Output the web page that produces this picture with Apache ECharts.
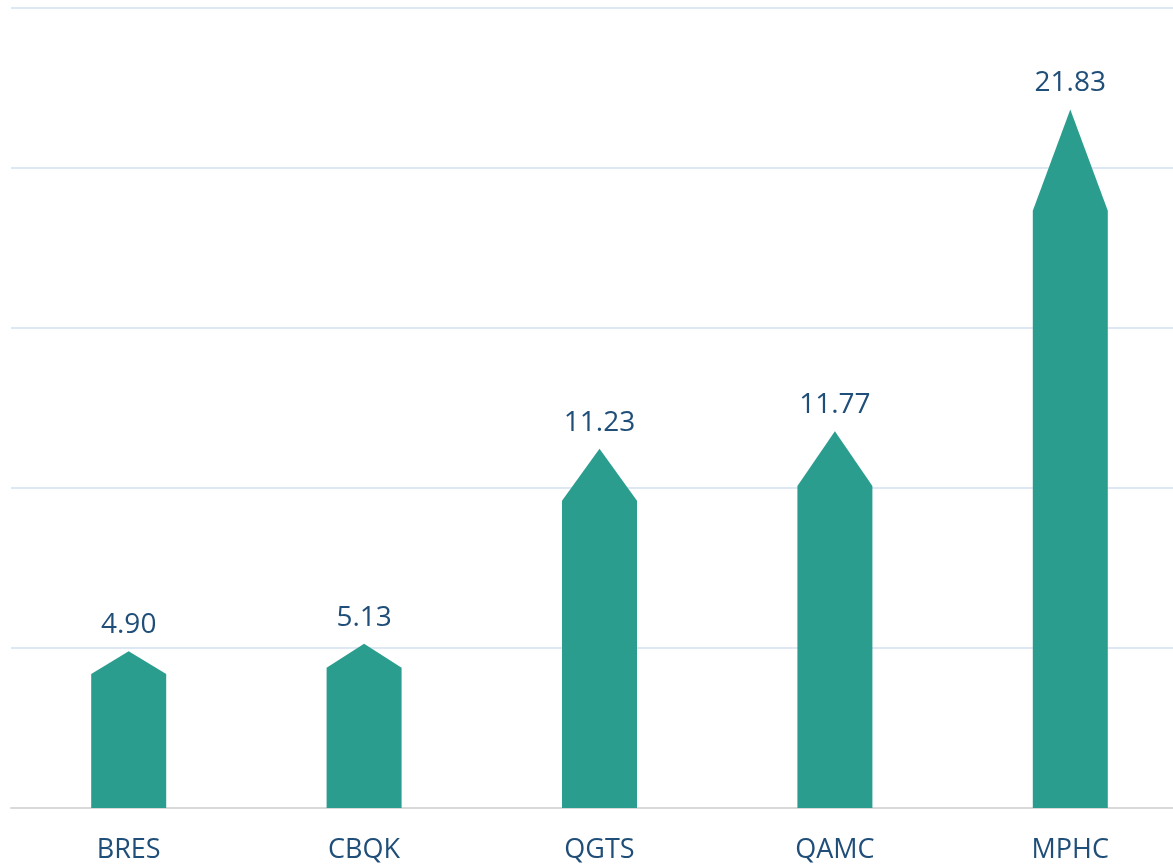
<!DOCTYPE html>
<html>
<head>
<meta charset="utf-8">
<script src="https://cdn.jsdelivr.net/npm/echarts@6/dist/echarts.min.js"></script>
<style>
html,body{margin:0;padding:0;background:#fff;}
#c{width:1173px;height:866px;}
</style>
</head>
<body>
<div id="c"></div>
<script>
const categories = ['BRES', 'CBQK', 'QGTS', 'QAMC', 'MPHC'];
const values = [4.90, 5.13, 11.23, 11.77, 21.83];
const yMin = 0, yMax = 25, yInterval = 5;

const chart = echarts.init(document.getElementById('c'));
chart.setOption({
  backgroundColor: '#ffffff',
  animation: false,
  grid: { left: 11, right: -15, top: 8, bottom: 58, containLabel: false, outerBoundsMode: 'none' },
  xAxis: {
    type: 'category',
    data: categories,
    axisLine: { show: true, lineStyle: { color: '#d9d9d9', width: 2 } },
    axisTick: { show: false },
    axisLabel: { color: '#1f4e79', fontSize: 27, fontFamily: 'Open Sans', margin: 29 }
  },
  yAxis: {
    type: 'value',
    min: yMin, max: yMax, interval: yInterval,
    axisLine: { show: false },
    axisTick: { show: false },
    axisLabel: { show: false },
    splitLine: { lineStyle: { color: '#dde8f4', width: 2 } }
  },
  series: [{
    type: 'pictorialBar',
    data: values,
    symbol: 'path://M0,14.5 L50,0 L100,14.5 L100,100 L0,100 Z',
    symbolSize: [75, '100%'],
    symbolPosition: 'start',
    symbolKeepAspect: false,
    itemStyle: { color: '#2a9d8f' },
    label: {
      show: true,
      position: 'top',
      distance: 12,
      color: '#1f4e79',
      fontSize: 28,
      fontFamily: 'Open Sans',
      formatter: p => p.value.toFixed(2)
    }
  }]
});
</script>
</body>
</html>
